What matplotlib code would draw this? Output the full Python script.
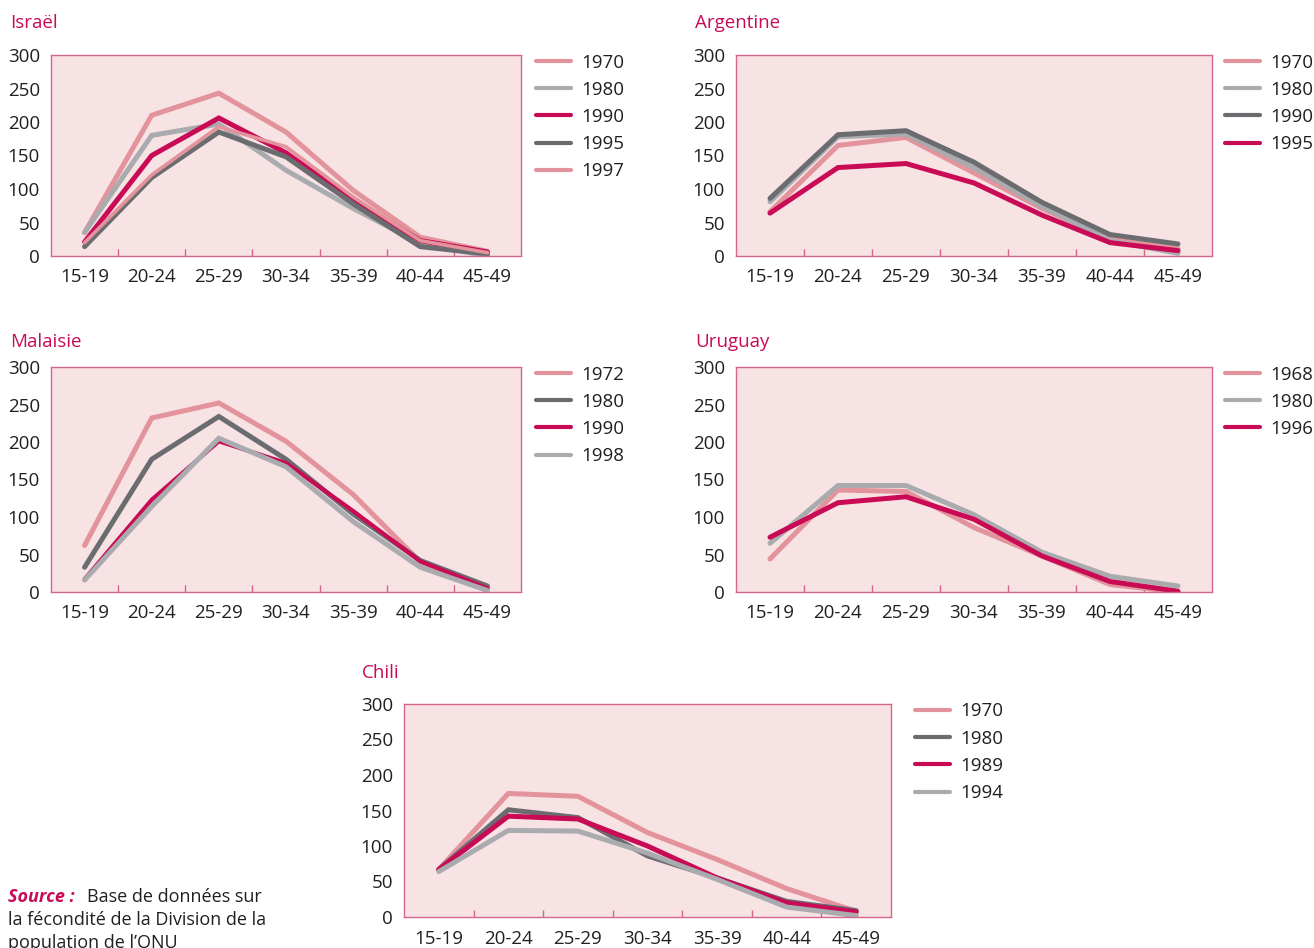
import matplotlib
matplotlib.use("Agg")
import matplotlib.pyplot as plt
import numpy as np

plt.rcParams['font.family'] = ['Open Sans', 'DejaVu Sans']

# age groups
ages = ["15-19", "20-24", "25-29", "30-34", "35-39", "40-44", "45-49"]

# Israël
isr_years = ["1970", "1980", "1990", "1995", "1997"]
isr_1970 = [35, 210, 243, 185, 98, 28, 7]
isr_1980 = [35, 180, 197, 128, 71, 19, 0]
isr_1990 = [21, 150, 206, 154, 83, 23, 6]
isr_1995 = [14, 117, 185, 148, 78, 14, 3]
isr_1997 = [20, 121, 193, 163, 88, 23, 5]

# Argentine
arg_years = ["1970", "1980", "1990", "1995"]
arg_1970 = [66, 165, 177, 124, 71, 25, 11]
arg_1980 = [81, 178, 182, 132, 74, 23, 4]
arg_1990 = [86, 181, 187, 140, 80, 32, 18]
arg_1995 = [64, 132, 138, 109, 61, 20, 8]

# Malaisie
mal_years = ["1972", "1980", "1990", "1998"]
mal_1972 = [62, 232, 252, 201, 130, 40, 5]
mal_1980 = [33, 177, 234, 177, 104, 42, 8]
mal_1990 = [17, 123, 201, 172, 108, 41, 5]
mal_1998 = [16, 114, 205, 167, 94, 33, 2]

# Uruguay
uru_years = ["1968", "1980", "1996"]
uru_1968 = [44, 136, 134, 86, 48, 10, 0]
uru_1980 = [65, 142, 142, 103, 53, 21, 8]
uru_1996 = [73, 119, 127, 97, 48, 14, 1]

# Chili
chl_years = ["1970", "1980", "1989", "1994"]
chl_1970 = [67, 174, 170, 119, 81, 40, 8]
chl_1980 = [67, 151, 140, 86, 55, 22, 9]
chl_1989 = [67, 142, 138, 100, 55, 20, 7]
chl_1994 = [64, 122, 121, 90, 53, 14, 2]

PINK = "#e3939b"
LGRAY = "#a9abae"
CRIMSON = "#c90a55"
DGRAY = "#6b6c70"
FACE = "#f7e2e4"
SPINE = "#d4668e"
TXT = "#231f20"

W, H = 1314, 948
fig = plt.figure(figsize=(W / 100, H / 100), dpi=100)


def box(x0, x1, ytop, ybot):
    return [x0 / W, 1 - ybot / H, (x1 - x0) / W, (ybot - ytop) / H]


def panel(rect, years, series, colors, widths, leg_gap=13):
    x0, x1, ytop, ybot = rect
    ax = fig.add_axes(box(*rect))
    ax.set_facecolor(FACE)
    x = np.arange(len(ages))
    for yr, vals, c, lw in zip(years, series, colors, widths):
        ax.plot(x, vals, color=c, lw=lw, label=yr, solid_capstyle='round',
                solid_joinstyle='miter')
    ax.set_xlim(-0.5, 6.5)
    ax.set_ylim(0, 300)
    ax.set_yticks(range(0, 301, 50))
    ax.set_xticks(x)
    ax.set_xticklabels(ages)
    ax.set_xticks(np.arange(0.5, 6), minor=True)
    ax.tick_params(axis='both', which='major', length=0, labelsize=13.5,
                   colors=TXT)
    ax.tick_params(axis='x', which='major', pad=9)
    ax.tick_params(axis='y', which='major', pad=8)
    ax.tick_params(axis='x', which='minor', direction='in', length=5,
                   color=SPINE, width=1)
    for s in ax.spines.values():
        s.set_color(SPINE)
        s.set_linewidth(1)
    leg = ax.legend(loc='upper left',
                    bbox_to_anchor=((x1 + leg_gap) / W, 1 - (ytop - 1.5) / H),
                    bbox_transform=fig.transFigure, borderpad=0,
                    borderaxespad=0, frameon=False, fontsize=13.5,
                    handlelength=1.87, handletextpad=0.53,
                    labelspacing=0.49)
    for t in leg.get_texts():
        t.set_color(TXT)
    for h in leg.legend_handles:
        h.set_linewidth(3)
        h.set_solid_capstyle('round')
    return ax


def title(x, y, s):
    fig.text(x / W, 1 - y / H, s, color=CRIMSON, fontsize=13.5,
             ha='left', va='center')


panel((51, 521, 55, 256), isr_years,
      [isr_1970, isr_1980, isr_1990, isr_1995, isr_1997],
      [PINK, LGRAY, CRIMSON, DGRAY, PINK], [3.6, 3.6, 3.6, 3.6, 2.6],
      leg_gap=15)
title(10, 23, "Israël")

panel((736, 1212, 55, 256), arg_years,
      [arg_1970, arg_1980, arg_1990, arg_1995],
      [PINK, LGRAY, DGRAY, CRIMSON], [3.6, 3.6, 3.6, 3.6])
title(695, 23, "Argentine")

panel((51, 521, 367, 592), mal_years,
      [mal_1972, mal_1980, mal_1990, mal_1998],
      [PINK, DGRAY, CRIMSON, LGRAY], [3.6, 3.6, 3.0, 3.6], leg_gap=15)
title(10, 342, "Malaisie")

panel((736, 1212, 367, 592), uru_years,
      [uru_1968, uru_1980, uru_1996],
      [PINK, LGRAY, CRIMSON], [3.6, 3.6, 3.6])
title(695, 342, "Uruguay")

panel((404, 891, 704, 917), chl_years,
      [chl_1970, chl_1980, chl_1989, chl_1994],
      [PINK, DGRAY, CRIMSON, LGRAY], [3.6, 3.6, 3.6, 3.6], leg_gap=24)
title(362, 673, "Chili")

# source note (last line runs off the bottom edge, as in the original)
fig.text(8 / W, 1 - 897 / H, "Source :", color=CRIMSON, fontsize=13,
         fontweight='bold', fontstyle='italic', ha='left', va='center')
fig.text(87 / W, 1 - 897 / H, "Base de données sur", color=TXT,
         fontsize=13, ha='left', va='center')
fig.text(8 / W, 1 - 920 / H, "la fécondité de la Division de la",
         color=TXT, fontsize=13, ha='left', va='center')
fig.text(8 / W, 1 - 943 / H, "population de l’ONU", color=TXT,
         fontsize=13, ha='left', va='center')

fig.savefig("out.png", dpi=100, facecolor='white')
